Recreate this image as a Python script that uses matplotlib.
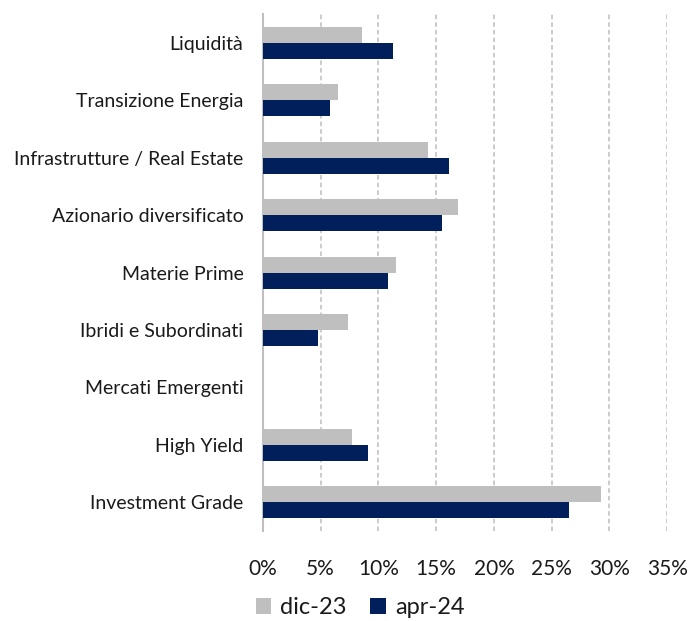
import matplotlib.pyplot as plt
import matplotlib.ticker as mtick
import numpy as np

plt.rcParams['font.family'] = ['Lato', 'DejaVu Sans']

categories = ["Liquidità", "Transizione Energia", "Infrastrutture / Real Estate",
              "Azionario diversificato", "Materie Prime", "Ibridi e Subordinati",
              "Mercati Emergenti", "High Yield", "Investment Grade"]
dic23 = [8.6, 6.5, 14.3, 16.9, 11.5, 7.4, 0.0, 7.7, 29.3]
apr24 = [11.3, 5.8, 16.1, 15.5, 10.8, 4.8, 0.0, 9.1, 26.5]
series_names = ["dic-23", "apr-24"]

fig = plt.figure(figsize=(6.9, 6.21), dpi=100)
ax = fig.add_axes([0.381, 0.145, 0.586, 0.832])

y = np.arange(len(categories))
h = 0.28
ax.barh(y - h / 2, dic23, height=h, color='#BFBFBF', linewidth=0, label=series_names[0], zorder=3)
ax.barh(y + h / 2, apr24, height=h, color='#001F5B', linewidth=0, label=series_names[1], zorder=3)

ax.set_ylim(len(categories) - 0.5, -0.5)
ax.set_yticks(y)
ax.set_yticklabels(categories, fontsize=14, color='#1a1a1a')
ax.set_xlim(0, 35)
ax.set_xticks(np.arange(0, 36, 5))
ax.xaxis.set_major_formatter(mtick.FuncFormatter(lambda v, p: "%d%%" % v))
ax.tick_params(axis='x', labelsize=15, length=0, pad=20, labelcolor='#1a1a1a')
ax.tick_params(axis='y', length=0, pad=14)

ax.grid(axis='x', color='#BDBDBD', linestyle=(0, (3, 2)), linewidth=1.1, zorder=0)
for s in ['top', 'right', 'bottom']:
    ax.spines[s].set_visible(False)
ax.spines['left'].set_color('#BFBFBF')
ax.spines['left'].set_linewidth(1.5)

handles, labels = ax.get_legend_handles_labels()
fig.legend(handles, labels, loc='lower center', bbox_to_anchor=(0.522, -0.03), ncol=2,
           frameon=False, fontsize=17, handlelength=0.65, handleheight=0.65,
           handletextpad=0.4, columnspacing=1.0, labelcolor='#1a1a1a')

fig.savefig('out.png', dpi=100)
